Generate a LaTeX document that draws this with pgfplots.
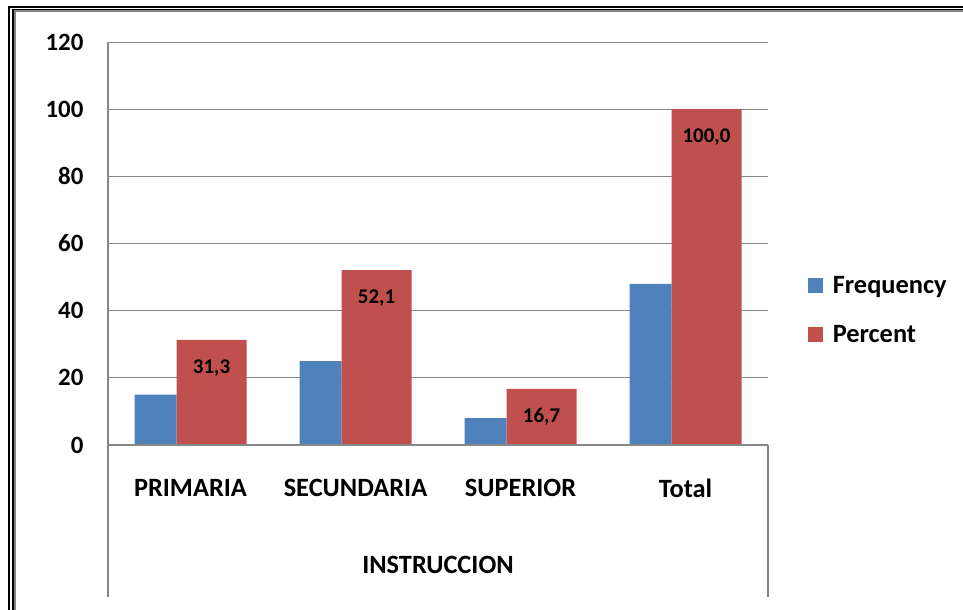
\documentclass[border=0pt]{standalone}
\usepackage{pgfplots}
\pgfplotsset{compat=1.18}
\usepackage{fontspec}
\setmainfont{Carlito}
\definecolor{freqblue}{HTML}{4F81BD}
\definecolor{pctred}{HTML}{C0504D}
\definecolor{gridgray}{HTML}{868686}
\begin{document}
\begin{tikzpicture}
\useasboundingbox (0,0) rectangle (963bp,610bp);
\fill[white] (0,0) rectangle (963bp,610bp);
% frame
\draw[black, line width=1.8bp] (9.3bp,-5bp) -- (9.3bp,602.7bp) -- (970bp,602.7bp);
\draw[black, line width=1.3bp] (13bp,-5bp) -- (13bp,600.3bp) -- (970bp,600.3bp);
\draw[gridgray, line width=1.4bp] (14.8bp,-5bp) -- (14.8bp,599bp) -- (970bp,599bp);
\begin{axis}[
  at={(108bp,165bp)}, anchor=south west,
  scale only axis, width=660bp, height=403bp,
  xmin=-0.5, xmax=3.5, ymin=0, ymax=120,
  ytick={0,20,...,120},
  xtick={0,1,2,3},
  xticklabels={PRIMARIA,SECUNDARIA,SUPERIOR,Total},
  axis line style={draw=none},
  major tick length=0pt,
  ymajorgrids,
  grid style={gridgray, line width=0.8bp},
  clip=false,
  /pgf/number format/assume math mode=true,
  yticklabel style={font=\fontsize{25}{30}\selectfont\bfseries, xshift=-21bp},
  xticklabel style={font=\fontsize{26.5}{31}\selectfont\bfseries, anchor=center, yshift=-43bp},
  xlabel={INSTRUCCION},
  xlabel style={at={(rel axis cs:0.5,0)}, anchor=center, yshift=-120bp, font=\fontsize{26.5}{31}\selectfont\bfseries},
  legend style={draw=none, fill=none, at={(rel axis cs:1.06,0.335)}, anchor=west,
    font=\fontsize{26.5}{31}\selectfont\bfseries, row sep=27bp, inner sep=0pt,
    /tikz/every odd column/.append style={column sep=8bp}},
  legend cell align=left,
]
\addplot[ybar, fill=freqblue, draw=none, bar width=42bp, bar shift=-35bp,
  legend image code/.code={\path[fill=freqblue] (0bp,-7.5bp) rectangle (15bp,7.5bp);}]
  coordinates {(0,15) (1,25) (2,8) (3,48)};
\addlegendentry{Frequency}
\addplot[ybar, fill=pctred, draw=none, bar width=70bp, bar shift=21bp,
  legend image code/.code={\path[fill=pctred] (0bp,-7.5bp) rectangle (15bp,7.5bp);},
  nodes near coords={\pgfmathprintnumber[fixed,fixed zerofill,precision=1,use comma]{\pgfplotspointmeta}},
  nodes near coords style={font=\fontsize{21}{25}\selectfont\bfseries, anchor=center, xshift=21bp, yshift=-28bp, text=black}]
  coordinates {(0,31.3) (1,52.1) (2,16.7) (3,100.0)};
\addlegendentry{Percent}
\draw[gridgray, line width=1.5bp] (rel axis cs:0,1) -- (rel axis cs:0,0) -- ([yshift=-152bp]rel axis cs:0,0);
\draw[gridgray, line width=2bp] (rel axis cs:0,0) -- (rel axis cs:1,0);
\draw[gridgray, line width=1.2bp] (rel axis cs:1,0) -- ([yshift=-152bp]rel axis cs:1,0);
\end{axis}
\end{tikzpicture}
\end{document}
